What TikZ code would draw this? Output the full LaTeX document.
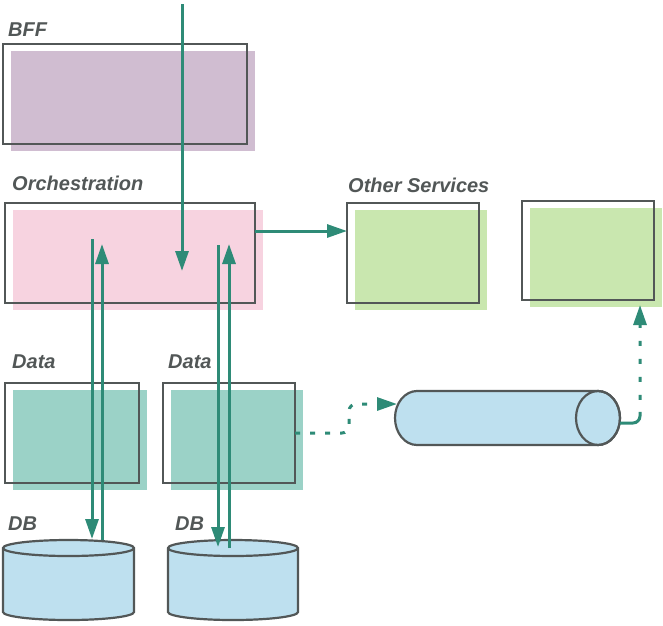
\documentclass[tikz,border=0pt]{standalone}
\usepackage{fontspec}
\setmainfont{Liberation Sans}
\usetikzlibrary{shadows,arrows.meta,calc}
\definecolor{outline}{HTML}{525757}
\definecolor{flowc}{HTML}{2E8B77}
\definecolor{bffc}{HTML}{D0BDD1}
\definecolor{orchc}{HTML}{F7D3E0}
\definecolor{svcc}{HTML}{C9E7AF}
\definecolor{datac}{HTML}{9BD2C7}
\definecolor{dbc}{HTML}{BEE0EF}
\tikzset{
  box/.style={draw=outline, line width=2.4pt, inner sep=0pt, outer sep=0pt,
    general shadow={fill=#1, shadow xshift=8pt, shadow yshift=-7pt}},
  spot/.style={inner sep=0pt, outer sep=0pt},
  lbl/.style={anchor=base west, inner sep=0pt, text=outline,
    font=\fontsize{20}{24}\selectfont\bfseries\itshape},
  flow/.style={draw=flowc, line width=3pt, -{Triangle[length=20pt,width=13pt]}},
  flowdash/.style={flow, dash pattern=on 5pt off 10pt, rounded corners=7pt},
  cylline/.style={draw=outline, line width=2.2pt, fill=dbc}
}
\begin{document}
\begin{tikzpicture}[x=1pt,y=-1pt]
\useasboundingbox (0,0) rectangle (663,625);

% labels
\node[lbl] (lbff) at (8,36) {BFF};
\node[lbl] (lorch) at (12,190) {Orchestration};
\node[lbl] (lother) at (348,192) {Other Services};
\node[lbl] (ldata1) at (12,368) {Data};
\node[lbl] (ldata2) at (168,368) {Data};
\node[lbl] (ldb1) at (8,530) {DB};
\node[lbl] (ldb2) at (175,530) {DB};

% boxes
\node[box=bffc, minimum width=244pt, minimum height=100pt] (bff) at (125,94) {};
\node[box=orchc, minimum width=250pt, minimum height=100pt] (orch) at (130,253) {};
\node[box=svcc, minimum width=132pt, minimum height=100pt] (other1) at (413,253) {};
\node[box=svcc, minimum width=132pt, minimum height=99pt] (other2) at (588,250.5) {};
\node[box=datac, minimum width=134pt, minimum height=100pt] (data1) at (72,433) {};
\node[box=datac, minimum width=132pt, minimum height=100pt] (data2) at (229,433) {};

% databases
\node[spot, anchor=north west, minimum width=131pt, minimum height=80pt] (db1) at (3,540) {};
\node[spot, anchor=north west, minimum width=130pt, minimum height=80pt] (db2) at (168,540) {};
\path[cylline] (3,548) -- (3,612) arc[start angle=180,end angle=360,x radius=65.5pt,y radius=8pt]
  -- (134,548) arc[start angle=0,end angle=180,x radius=65.5pt,y radius=8pt] -- cycle;
\draw[draw=outline, line width=2.2pt] (3,548) arc[start angle=180,end angle=360,x radius=65.5pt,y radius=8pt];
\path[cylline] (168,548) -- (168,612) arc[start angle=180,end angle=360,x radius=65pt,y radius=8pt]
  -- (298,548) arc[start angle=0,end angle=180,x radius=65pt,y radius=8pt] -- cycle;
\draw[draw=outline, line width=2.2pt] (168,548) arc[start angle=180,end angle=360,x radius=65pt,y radius=8pt];

% queue
\node[spot, minimum width=225pt, minimum height=54pt] (q) at (507.5,418) {};
\path[cylline] (417,391) -- (598,391) arc[start angle=90,end angle=-90,x radius=22pt,y radius=27pt]
  -- (417,445) arc[start angle=270,end angle=90,x radius=22pt,y radius=27pt] -- cycle;
\draw[draw=outline, line width=2.2pt] (598,418) ellipse[x radius=22pt,y radius=27pt];

% coordinates
\coordinate (entry) at (182,4);
\coordinate (orchin) at (182,271);
\coordinate (d1) at (92,239);
\coordinate (u1) at (102,244);
\coordinate (d2) at (218,245);
\coordinate (u2) at (229,244);
\coordinate (y231) at (0,231);

% connectors
\draw[flow] (entry) -- (orchin);
\draw[flow] (d1) -- ($(d1 |- db1.north)+(0,-1)$);
\draw[flow] ($(u1 |- db1.north)$) -- (u1);
\draw[flow] (d2) -- ($(d2 |- db2.north)+(0,7)$);
\draw[flow] ($(u2 |- db2.north)+(0,8)$) -- (u2);
\draw[flow] (orch.east |- y231) -- (other1.west |- y231);
\draw[flowdash] (data2.east) -- ++(54,0) |- ($(q.west)+(2,-14)$);
\draw[flowdash, dash pattern=on 28pt off 12pt on 5pt off 13pt on 5pt off 13pt on 5pt off 13pt on 5pt off 13pt on 5pt off 200pt]
  ($(q.east)+(0,5)$) -| ($(other2.south)+(52,5)$);
\end{tikzpicture}
\end{document}
